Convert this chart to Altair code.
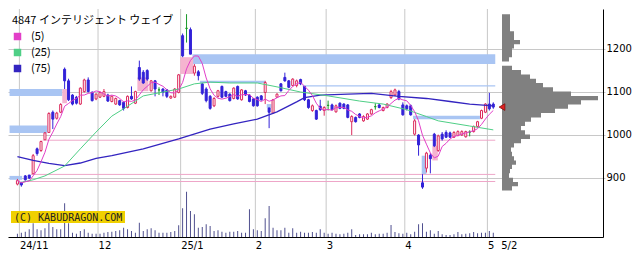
import altair as alt
import pandas as pd

# ---------------- data ----------------
title_text = "4847 インテリジェント ウェイブ"
ma_names = ["(5)", "(25)", "(75)"]
ma_colors = ["#e23fc8", "#4fcf86", "#3324c0"]

opens = [885, 889, 904, 906, 909, 967, 963, 988, 1005, 1052,
         1038, 1052, 1152, 1125, 1092, 1087, 1071, 1100, 1127, 1098,
         1083, 1087, 1089, 1092, 1077, 1071, 1079, 1075, 1063, 1089,
         1073, 1156, 1145, 1149, 1102, 1125, 1104, 1106, 1104, 1085,
         1087, 1098, 1230, 1247, 1244, 1143, 1146, 1118, 1106, 1089,
         1067, 1089, 1112, 1100, 1094, 1084, 1112, 1081, 1102, 1092,
         1083, 1087, 1090, 1098, 1062, 1050, 1087, 1118, 1133, 1125,
         1114, 1114, 1128, 1112, 1081, 1056, 1056, 1066, 1056, 1068,
         1069, 1053, 1073, 1071, 1069, 1030, 1040, 1048, 1032, 1036,
         1048, 1065, 1069, 1056, 1063, 1086, 1092, 1100, 1069, 1067,
         1067, 1001, 999, 888, 922, 952, 1001, 963, 1001, 1005,
         1004, 994, 998, 999, 995, 1006, 1007, 1019, 1038, 1052,
         1071, 1071]
highs = [897, 890, 906, 906, 955, 970, 986, 1006, 1052, 1056,
         1053, 1073, 1156, 1130, 1094, 1090, 1110, 1130, 1133, 1101,
         1096, 1100, 1106, 1095, 1091, 1086, 1081, 1077, 1091, 1112,
         1102, 1172, 1150, 1152, 1127, 1127, 1110, 1108, 1106, 1091,
         1108, 1141, 1235, 1280, 1249, 1164, 1150, 1120, 1110, 1092,
         1087, 1104, 1114, 1102, 1096, 1110, 1114, 1106, 1104, 1094,
         1085, 1089, 1092, 1125, 1062, 1083, 1096, 1120, 1144, 1127,
         1131, 1128, 1130, 1112, 1083, 1070, 1058, 1081, 1066, 1079,
         1072, 1070, 1075, 1073, 1071, 1045, 1042, 1050, 1045, 1050,
         1060, 1073, 1071, 1065, 1073, 1104, 1107, 1104, 1075, 1070,
         1070, 1036, 1001, 908, 960, 957, 1004, 1000, 1006, 1010,
         1007, 1008, 1010, 1010, 1009, 1010, 1021, 1032, 1058, 1073,
         1097, 1075]
lows = [882, 879, 893, 897, 909, 951, 960, 988, 1004, 1013,
        1035, 1050, 1106, 1078, 1068, 1070, 1069, 1098, 1098, 1077,
        1080, 1085, 1087, 1076, 1075, 1069, 1067, 1056, 1061, 1081,
        1071, 1125, 1118, 1125, 1100, 1089, 1092, 1089, 1085, 1083,
        1085, 1096, 1180, 1214, 1187, 1137, 1126, 1092, 1075, 1058,
        1064, 1086, 1085, 1087, 1077, 1082, 1081, 1079, 1090, 1075,
        1065, 1065, 1079, 1071, 1015, 1048, 1085, 1100, 1123, 1108,
        1112, 1110, 1115, 1078, 1060, 1053, 1034, 1055, 1044, 1056,
        1056, 1051, 1059, 1059, 1038, 999, 1028, 1038, 1030, 1034,
        1046, 1058, 1061, 1054, 1061, 1083, 1090, 1080, 1044, 1056,
        1044, 998, 951, 874, 912, 910, 971, 960, 986, 992,
        992, 992, 996, 997, 993, 996, 1005, 1017, 1036, 1050,
        1056, 1060]
closes = [893, 883, 895, 899, 951, 956, 984, 1004, 1049, 1036,
          1050, 1070, 1125, 1081, 1071, 1073, 1108, 1127, 1100, 1079,
          1094, 1098, 1100, 1078, 1089, 1084, 1069, 1061, 1089, 1083,
          1100, 1129, 1120, 1129, 1125, 1106, 1104, 1098, 1089, 1089,
          1106, 1139, 1183, 1247, 1187, 1159, 1137, 1096, 1079, 1061,
          1084, 1102, 1087, 1089, 1079, 1108, 1083, 1104, 1092, 1077,
          1067, 1067, 1081, 1121, 1052, 1081, 1094, 1102, 1125, 1110,
          1129, 1125, 1118, 1081, 1063, 1067, 1036, 1058, 1063, 1068,
          1058, 1067, 1061, 1061, 1040, 1042, 1030, 1040, 1042, 1048,
          1058, 1065, 1063, 1063, 1071, 1100, 1104, 1083, 1046, 1060,
          1046, 1032, 976, 878, 957, 944, 974, 997, 990, 994,
          994, 1005, 1007, 1007, 1007, 1006, 1019, 1030, 1056, 1071,
          1060, 1064]
volumes = [100, 130, 160, 230, 410, 230, 200, 260, 430, 300,
           230, 230, 1010, 410, 130, 100, 180, 230, 130, 100,
           100, 100, 130, 150, 160, 180, 200, 280, 230, 180,
           130, 430, 180, 230, 260, 200, 130, 130, 130, 150,
           180, 350, 860, 1360, 780, 680, 280, 300, 380, 330,
           180, 200, 160, 130, 160, 160, 180, 130, 130, 830,
           230, 200, 180, 560, 930, 280, 200, 200, 280, 130,
           260, 130, 160, 130, 130, 150, 130, 230, 130, 100,
           130, 100, 80, 100, 130, 230, 60, 80, 80, 80,
           130, 80, 100, 100, 130, 360, 150, 110, 100, 130,
           80, 160, 380, 410, 160, 200, 100, 180, 80, 60,
           60, 80, 150, 80, 100, 110, 150, 110, 130, 130,
           180, 130]

# moving averages (25 / 75 days) read at sample candles
ma25_i = [1, 4, 7, 12, 16, 20, 24, 27, 32, 41, 45, 49, 54, 61, 66, 72, 79, 87, 93, 99, 104, 107, 115, 121]
ma25_v = [889, 895, 904, 927, 967, 1006, 1043, 1060, 1090, 1106, 1118, 1122, 1120, 1120, 1111, 1099,
          1090, 1078, 1071, 1058, 1042, 1032, 1020, 1011]
ma75_i = [0, 4, 8, 12, 16, 20, 24, 32, 41, 49, 55, 61, 66, 71, 73, 77, 84, 90, 97, 104, 110, 115, 121]
ma75_v = [949, 940, 933, 928, 934, 945, 951, 967, 990, 1013, 1025, 1036, 1053, 1076, 1086, 1092,
          1094, 1096, 1089, 1084, 1077, 1071, 1067]

# month starts (candle index) and labels
month_idx = [1, 21, 42, 61, 79, 99, 120]
month_labels = ["24/11", "12", "25/1", "2", "3", "4", "5"]
last_label = "5/2"
last_label_pos = 122.9

# unfilled / filled gaps (candle index ranges, price ranges)
gapd_s = [-2, -2, -2, 44.5, 72.5, 46.4, 63.4, 100.6, 102.8]
gapd_e = [11.4, 7.6, 1.2, 121.5, 121.5, 63.0, 64.6, 117.6, 104.0]
gapd_lo = [1090, 1004, 895, 1164, 1112, 1120, 1062, 1036, 908]
gapd_hi = [1106, 1021, 904, 1187, 1115, 1125, 1071, 1044, 951]
gapu_s = [11.4, 30.5, 41.4, 105.5]
gapu_e = [12.6, 33.3, 44.7, 106.9]
gapu_lo = [1073, 1101, 1141, 940]
gapu_hi = [1106, 1133, 1180, 974]
gline_s = [1.4, 3.4, 6.4]
gline_e = [121.5, 121.5, 121.5]
gline_p = [891, 907.5, 987]

# volume-by-price profile (lower edge of each price bin, relative volume)
prof_lo = [870, 880, 890, 900, 910, 920, 930, 940, 950, 960, 970, 980, 990, 1000, 1010, 1020, 1030,
           1040, 1050, 1060, 1070, 1080, 1090, 1100, 1110, 1120, 1130, 1140, 1150, 1160, 1170, 1180,
           1190, 1200, 1210, 1220, 1230, 1240, 1250, 1260, 1270]
prof_top = 1280
prof_vol = [6, 10, 16, 11, 7, 8, 10, 14, 12, 10, 9, 12, 19, 28, 23, 19, 23, 29, 39, 53, 66, 79, 96,
            69, 51, 41, 34, 28, 19, 10, 0, 7, 10, 10, 12, 18, 12, 12, 8, 8, 8]

wm_text = "(C) KABUDRAGON.COM"

# ---------------- frames ----------------
n = len(closes)
candles = pd.DataFrame({"i": list(range(n)), "open": opens, "high": highs,
                        "low": lows, "close": closes, "vol": volumes})
ma25 = pd.DataFrame({"i": ma25_i, "v": ma25_v})
ma75 = pd.DataFrame({"i": ma75_i, "v": ma75_v})
months = pd.DataFrame({"m": month_idx})
gapd = pd.DataFrame({"s": gapd_s, "e": gapd_e, "lo": gapd_lo, "hi": gapd_hi})
gapu = pd.DataFrame({"s": gapu_s, "e": gapu_e, "lo": gapu_lo, "hi": gapu_hi})
glines = pd.DataFrame({"s": gline_s, "e": gline_e, "p": gline_p})
# step outline: each bin's value holds from its lower edge to the next edge
prof = pd.DataFrame({"p": prof_lo + [prof_top], "v": prof_vol + [prof_vol[-1]],
                     "base": [0] * (len(prof_vol) + 1)})
last = pd.DataFrame({"base": [0], "p": [closes[-1]]})
leg = pd.DataFrame({"name": ma_names})
wm = pd.DataFrame({"t": [wm_text]})

# ---------------- scales / axes ----------------
xs = alt.Scale(domain=[-1.125, 147.625], nice=False, zero=False)
ys = alt.Scale(domain=[762, 1292], nice=False, zero=False)
vs = alt.Scale(domain=[0, 6840], nice=False, zero=True)
ps = alt.Scale(domain=[-494, 101], nice=False, zero=False)

tick_vals = [m - 0.5 for m in month_idx] + [last_label_pos]
tick_text = month_labels + [last_label]
label_expr = ("[" + ",".join("'%s'" % t for t in tick_text) + "][indexof(["
              + ",".join(str(v) for v in tick_vals) + "], datum.value)]")

AX_FONT = "DejaVu Sans"
x_axis = alt.Axis(values=tick_vals, labelExpr=label_expr, grid=False, ticks=False,
                  domain=True, domainColor="#000000", domainWidth=1,
                  labelAlign="left", labelBaseline="top", labelPadding=3,
                  labelFont=AX_FONT, labelFontSize=10, labelColor="#000000",
                  labelFlush=False, labelOverlap=False, title=None)
y_axis = alt.Axis(orient="right", values=[900, 1000, 1100, 1200], format="d", grid=True,
                  gridColor="#c8c8c8", gridWidth=1, domain=True, domainColor="#000000",
                  ticks=True, tickColor="#c8c8c8", tickSize=2, labelPadding=1,
                  labelFont=AX_FONT, labelFontSize=10, labelColor="#000000", title=None)

dir_expr = "datum.close > datum.open ? 'up' : (datum.close < datum.open ? 'down' : 'flat')"
dir_dom = ["up", "down", "flat"]
stroke_sc = alt.Scale(domain=dir_dom, range=["#dc2a5c", "#3322d8", "#1a9a2a"])
fill_sc = alt.Scale(domain=dir_dom, range=["#ffffff", "#3322d8", "#1a9a2a"])

def X(field):
    return alt.X(field, scale=xs, axis=x_axis)

def Y(field):
    return alt.Y(field, scale=ys, axis=y_axis)

vgrid = alt.Chart(months).transform_calculate(g="datum.m - 0.5").mark_rule(
    color="#c8c8c8", strokeWidth=1).encode(x=X("g:Q"))

band_d = alt.Chart(gapd).mark_rect(color="#a9c5f3", clip=True).encode(
    x=X("s:Q"), x2="e:Q", y=Y("lo:Q"), y2="hi:Q")
band_u = alt.Chart(gapu).mark_rect(color="#f5b4d0", clip=True).encode(
    x=X("s:Q"), x2="e:Q", y=Y("lo:Q"), y2="hi:Q")
band_l = alt.Chart(glines).mark_rule(color="#eea6c8", strokeWidth=1).encode(
    x=X("s:Q"), x2="e:Q", y=Y("p:Q"))

cbase = alt.Chart(candles).transform_calculate(dir=dir_expr)
wicks = cbase.mark_rule(strokeWidth=1).encode(
    x=X("i:Q"), y=Y("low:Q"), y2="high:Q",
    stroke=alt.Stroke("dir:N", scale=stroke_sc, legend=None))
bodies = cbase.mark_bar(width=2, strokeWidth=1).encode(
    x=X("i:Q"), y=Y("open:Q"), y2="close:Q",
    fill=alt.Fill("dir:N", scale=fill_sc, legend=None),
    stroke=alt.Stroke("dir:N", scale=stroke_sc, legend=None))

line75 = alt.Chart(ma75).mark_line(color=ma_colors[2], strokeWidth=1.3).encode(x=X("i:Q"), y=Y("v:Q"))
line25 = alt.Chart(ma25).mark_line(color=ma_colors[1], strokeWidth=1).encode(x=X("i:Q"), y=Y("v:Q"))
line5 = alt.Chart(candles).transform_window(
    ma5="mean(close)", frame=[-4, 0], sort=[alt.SortField("i")]
).mark_line(color=ma_colors[0], strokeWidth=1).encode(x=X("i:Q"), y=Y("ma5:Q"))

legend_layer = alt.Chart(leg).mark_square(opacity=0, size=1).encode(
    color=alt.Color("name:N", scale=alt.Scale(domain=ma_names, range=ma_colors),
                    legend=alt.Legend(title=title_text, orient="none", legendX=4, legendY=6,
                                      padding=0, titleFont="Noto Sans CJK JP", titleFontSize=11,
                                      titleFontWeight="normal", titleColor="#000000", titlePadding=5,
                                      labelFont="Noto Sans CJK JP", labelFontSize=11,
                                      labelColor="#000000", labelOffset=8, symbolType="square",
                                      symbolSize=56, symbolOpacity=1, symbolStrokeWidth=0,
                                      rowPadding=4)))

price_layer = alt.layer(vgrid, band_d, band_u, band_l, wicks, bodies,
                        line75, line25, line5, legend_layer)

vol_layer = alt.Chart(candles).mark_bar(width=1, color="#50508f").encode(
    x=alt.X("i:Q", scale=xs, axis=None), y=alt.Y("vol:Q", scale=vs, axis=None))

prof_area = alt.Chart(prof).mark_area(color="#808080", orient="horizontal",
                                      interpolate="step-before", opacity=1).encode(
    x=alt.X("v:Q", scale=ps, axis=None), x2="base:Q",
    y=alt.Y("p:Q", scale=ys, axis=None, sort=None))
prof_mark = alt.Chart(last).mark_point(shape="triangle-left", filled=True, fill="#e02020",
                                       stroke="#801010", strokeWidth=0.8, size=45, opacity=1).encode(
    x=alt.X("base:Q", scale=ps, axis=None), y=alt.Y("p:Q", scale=ys, axis=None))
prof_layer = alt.layer(prof_area, prof_mark)

wm_box = alt.Chart(wm).mark_rect(color="#f0d000").encode(
    x=alt.value(3), x2=alt.value(117), y=alt.value(202), y2=alt.value(214))
wm_txt = alt.Chart(wm).mark_text(align="left", baseline="middle", font="DejaVu Sans Mono",
                                 fontSize=10, color="#222222").encode(
    text="t:N", x=alt.value(6), y=alt.value(208.5))
wm_layer = alt.layer(wm_box, wm_txt)

chart = alt.layer(price_layer, vol_layer, prof_layer, wm_layer).resolve_scale(
    x="independent", y="independent"
).properties(width=595, height=228, padding=0).configure_view(strokeWidth=0)

chart.save("out.html", embed_options={"renderer": "svg", "actions": False})
